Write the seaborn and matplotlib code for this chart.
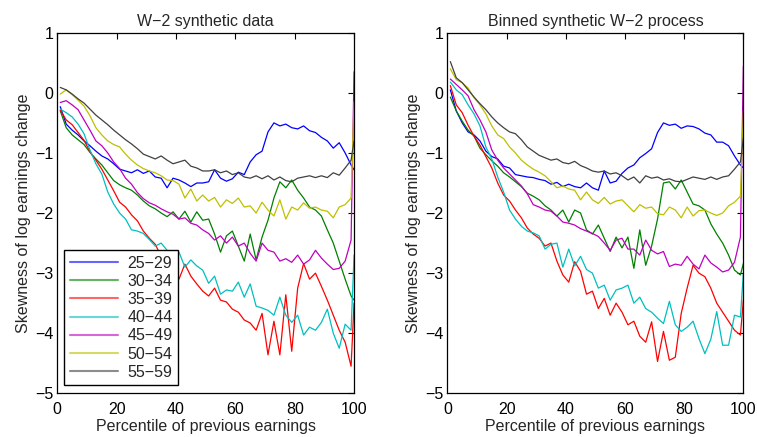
import numpy as np
import pandas as pd
import matplotlib
matplotlib.use("Agg")
import matplotlib.pyplot as plt
import seaborn as sns

# percentiles at which the curves were read (every 2nd percentile + the last one)
percentile = list(range(1, 100, 2)) + [100]

age_groups = ["25−29", "30−34", "35−39", "40−44", "45−49", "50−54", "55−59"]
colors = ["#0000ff", "#008000", "#ff0000", "#00bfbf", "#bf00bf", "#bfbf00", "#404040"]

# ---- left panel: W-2 synthetic data ----
w2_25 = [-0.23, -0.52, -0.62, -0.70, -0.80, -0.88, -0.97, -1.05, -1.10, -1.18,
         -1.27, -1.30, -1.33, -1.28, -1.34, -1.30, -1.40, -1.42, -1.58, -1.42,
         -1.45, -1.50, -1.56, -1.50, -1.50, -1.48, -1.28, -1.42, -1.47, -1.43,
         -1.32, -1.36, -1.15, -1.03, -0.97, -0.65, -0.50, -0.55, -0.52, -0.58,
         -0.60, -0.55, -0.63, -0.66, -0.74, -0.80, -0.92, -0.83, -1.00, -1.20, -1.28]
w2_30 = [-0.30, -0.58, -0.70, -0.78, -0.86, -0.99, -1.10, -1.20, -1.33, -1.46,
         -1.53, -1.58, -1.62, -1.70, -1.80, -1.88, -1.93, -2.00, -2.06, -1.98,
         -2.10, -1.97, -2.15, -1.98, -2.12, -2.10, -2.35, -2.65, -2.38, -2.30,
         -2.55, -2.80, -2.35, -2.78, -2.40, -2.12, -1.75, -1.48, -1.58, -1.45,
         -1.62, -1.75, -1.90, -1.95, -2.05, -2.28, -2.50, -2.80, -3.10, -3.38, -3.45]
w2_35 = [-0.29, -0.45, -0.53, -0.66, -0.79, -0.98, -1.12, -1.27, -1.45, -1.63,
         -1.82, -1.90, -2.03, -2.13, -2.30, -2.42, -2.52, -2.72, -2.88, -2.97,
         -3.10, -2.85, -3.05, -3.18, -3.30, -3.38, -3.25, -3.45, -3.48, -3.60,
         -3.65, -3.78, -3.83, -3.95, -3.67, -4.36, -3.80, -4.36, -3.36, -4.30,
         -3.25, -2.84, -3.10, -3.00, -3.22, -3.45, -3.70, -3.95, -4.15, -4.55, -3.50]
w2_40 = [-0.27, -0.33, -0.40, -0.52, -0.68, -0.95, -1.18, -1.35, -1.65, -1.85,
         -2.00, -2.10, -2.28, -2.30, -2.34, -2.44, -2.55, -2.50, -2.62, -2.85,
         -2.65, -2.90, -2.78, -2.88, -2.95, -3.17, -3.05, -3.35, -3.28, -3.30,
         -3.15, -3.40, -3.18, -3.55, -3.58, -3.62, -3.70, -3.40, -3.70, -3.82,
         -3.70, -4.03, -3.90, -3.95, -3.82, -3.60, -4.00, -4.25, -3.85, -3.95, -2.70]
w2_45 = [-0.16, -0.13, -0.20, -0.28, -0.45, -0.62, -0.80, -0.88, -1.00, -1.15,
         -1.26, -1.42, -1.52, -1.66, -1.76, -1.83, -1.87, -1.93, -1.98, -2.02,
         -2.10, -2.08, -2.17, -2.20, -2.28, -2.34, -2.45, -2.38, -2.50, -2.40,
         -2.55, -2.50, -2.67, -2.80, -2.50, -2.62, -2.65, -2.80, -2.76, -2.82,
         -2.70, -2.85, -2.78, -2.62, -2.75, -2.85, -2.94, -2.92, -2.80, -2.45, 0.35]
w2_50 = [-0.02, 0.05, -0.03, -0.12, -0.22, -0.38, -0.58, -0.70, -0.80, -0.86,
         -0.90, -1.02, -1.12, -1.20, -1.26, -1.30, -1.33, -1.38, -1.45, -1.46,
         -1.52, -1.75, -1.60, -1.80, -1.70, -1.80, -1.74, -1.90, -1.78, -1.84,
         -1.75, -1.90, -1.88, -2.00, -1.82, -1.95, -2.05, -1.78, -2.10, -1.90,
         -1.95, -1.83, -1.92, -1.90, -1.95, -1.97, -2.08, -1.90, -1.86, -1.75, -0.15]
w2_55 = [0.09, 0.05, -0.02, -0.10, -0.17, -0.27, -0.37, -0.45, -0.53, -0.62,
         -0.70, -0.78, -0.85, -0.93, -1.02, -1.06, -1.10, -1.05, -1.12, -1.18,
         -1.15, -1.12, -1.22, -1.25, -1.30, -1.30, -1.28, -1.33, -1.30, -1.36,
         -1.33, -1.40, -1.42, -1.38, -1.43, -1.38, -1.45, -1.40, -1.46, -1.48,
         -1.42, -1.40, -1.38, -1.41, -1.38, -1.41, -1.33, -1.37, -1.25, -1.12, -0.80]

# ---- right panel: binned synthetic W-2 process ----
bin_25 = [0.05, -0.30, -0.50, -0.65, -0.70, -0.80, -0.97, -1.06, -1.10, -1.22,
          -1.25, -1.36, -1.38, -1.40, -1.41, -1.44, -1.46, -1.52, -1.49, -1.56,
          -1.52, -1.56, -1.58, -1.50, -1.58, -1.62, -1.30, -1.50, -1.47, -1.34,
          -1.25, -1.20, -1.08, -1.01, -0.93, -0.66, -0.50, -0.54, -0.52, -0.59,
          -0.55, -0.56, -0.60, -0.67, -0.70, -0.82, -0.82, -0.88, -1.05, -1.20, -1.25]
bin_30 = [-0.07, -0.30, -0.47, -0.62, -0.72, -0.92, -1.03, -1.13, -1.22, -1.33,
          -1.40, -1.48, -1.56, -1.67, -1.72, -1.78, -1.88, -1.95, -2.05, -1.95,
          -2.15, -1.95, -2.00, -2.28, -2.35, -2.20, -2.42, -2.64, -2.40, -2.58,
          -2.40, -2.92, -2.28, -2.87, -2.55, -2.10, -1.50, -1.48, -1.60, -1.45,
          -1.65, -1.85, -1.88, -1.95, -2.18, -2.35, -2.50, -2.70, -2.95, -3.03, -2.84]
bin_35 = [0.12, -0.20, -0.33, -0.54, -0.72, -0.87, -1.06, -1.25, -1.50, -1.70,
          -1.80, -1.95, -2.08, -2.25, -2.35, -2.42, -2.55, -2.50, -2.80, -3.03,
          -3.15, -2.81, -2.97, -3.35, -3.30, -3.59, -3.42, -3.70, -3.50, -3.65,
          -3.86, -3.80, -4.05, -4.15, -3.81, -4.47, -3.97, -4.45, -4.40, -3.67,
          -3.25, -2.87, -3.00, -3.06, -3.25, -3.50, -3.65, -3.80, -3.95, -4.03, -3.45]
bin_40 = [0.18, 0.05, -0.03, -0.20, -0.35, -0.55, -0.90, -1.10, -1.40, -1.65,
          -1.95, -2.10, -2.22, -2.30, -2.33, -2.38, -2.60, -2.52, -2.50, -2.90,
          -2.60, -2.88, -2.72, -2.94, -3.00, -3.25, -3.20, -3.45, -3.28, -3.25,
          -3.20, -3.50, -3.40, -3.59, -3.65, -3.75, -3.84, -3.47, -3.86, -3.97,
          -3.90, -3.80, -4.09, -4.34, -4.10, -3.64, -4.20, -4.20, -3.70, -3.73, -3.00]
bin_45 = [0.23, 0.14, 0.05, -0.05, -0.28, -0.45, -0.65, -0.95, -1.12, -1.25,
          -1.35, -1.45, -1.55, -1.68, -1.86, -1.90, -1.95, -1.97, -2.05, -2.15,
          -2.17, -2.20, -2.26, -2.30, -2.34, -2.39, -2.50, -2.62, -2.45, -2.42,
          -2.60, -2.60, -2.70, -2.45, -2.62, -2.68, -2.64, -2.89, -2.85, -2.87,
          -2.72, -2.85, -2.93, -2.70, -2.83, -2.90, -2.98, -2.95, -2.82, -2.40, 0.45]
bin_50 = [0.40, 0.22, 0.17, 0.08, -0.08, -0.20, -0.35, -0.55, -0.70, -0.76,
          -0.90, -1.00, -1.12, -1.20, -1.27, -1.32, -1.38, -1.48, -1.58, -1.55,
          -1.60, -1.62, -1.78, -1.65, -1.78, -1.84, -1.74, -1.85, -1.80, -1.78,
          -1.88, -1.98, -1.86, -1.92, -1.90, -2.01, -2.03, -1.90, -1.95, -2.08,
          -1.90, -2.05, -1.96, -1.95, -2.00, -2.04, -2.00, -1.88, -1.82, -1.72, -0.30]
bin_55 = [0.52, 0.25, 0.17, 0.05, -0.07, -0.18, -0.28, -0.40, -0.50, -0.58,
          -0.65, -0.68, -0.78, -0.90, -0.97, -1.04, -1.08, -1.12, -1.10, -1.16,
          -1.18, -1.14, -1.21, -1.25, -1.30, -1.32, -1.30, -1.35, -1.33, -1.38,
          -1.45, -1.40, -1.50, -1.38, -1.42, -1.40, -1.45, -1.43, -1.47, -1.48,
          -1.44, -1.40, -1.42, -1.44, -1.40, -1.44, -1.40, -1.38, -1.27, -1.15, -0.75]

panels = {
    "W−2 synthetic data": [w2_25, w2_30, w2_35, w2_40, w2_45, w2_50, w2_55],
    "Binned synthetic W−2 process": [bin_25, bin_30, bin_35, bin_40, bin_45, bin_50, bin_55],
}

rows = []
for title, series in panels.items():
    for age, vals in zip(age_groups, series):
        for p, v in zip(percentile, vals):
            rows.append({"panel": title, "age": age, "percentile": p, "skew": v})
df = pd.DataFrame(rows)

sns.set_style("white")
plt.rcParams["font.family"] = ["Liberation Sans", "DejaVu Sans"]
plt.rcParams["axes.unicode_minus"] = True

fs = 11.5
fig = plt.figure(figsize=(7.57, 4.37), dpi=100)
ax_l = fig.add_axes([0.0757, 0.100, 0.392, 0.825])
ax_r = fig.add_axes([0.591, 0.100, 0.391, 0.825])
palette = dict(zip(age_groups, colors))

for ax, title in zip([ax_l, ax_r], panels):
    sub = df[df["panel"] == title]
    sns.lineplot(data=sub, x="percentile", y="skew", hue="age", hue_order=age_groups,
                 palette=palette, linewidth=0.9, errorbar=None, ax=ax, legend=(ax is ax_l))
    ax.set_xlim(0, 100)
    ax.set_ylim(-5, 1)
    ax.set_xticks(range(0, 101, 20))
    ax.set_yticks(range(-5, 2))
    ax.set_title(title, fontsize=fs, pad=5)
    ax.set_xlabel("Percentile of previous earnings", fontsize=fs, labelpad=2)
    ax.set_ylabel("Skewness of log earnings change", fontsize=fs, labelpad=3)
    ax.tick_params(axis="x", pad=6)
    ax.tick_params(axis="y", pad=3)
    ax.tick_params(direction="in", length=4, width=0.8, top=True, right=True,
                   labelsize=fs, colors="black")
    for s in ax.spines.values():
        s.set_visible(True)
        s.set_color("black")
        s.set_linewidth(0.9)

leg = ax_l.legend(loc="lower left", fontsize=fs, frameon=True, fancybox=False,
                  edgecolor="black", framealpha=1, handlelength=3.0,
                  labelspacing=0.2, borderpad=0.35, handletextpad=0.6,
                  borderaxespad=0, bbox_to_anchor=(0.023, 0.022))
leg.get_frame().set_linewidth(1.0)
for line in leg.get_lines():
    line.set_linewidth(1.5)
    line.set_alpha(0.6)

fig.savefig("out.png", dpi=100)
